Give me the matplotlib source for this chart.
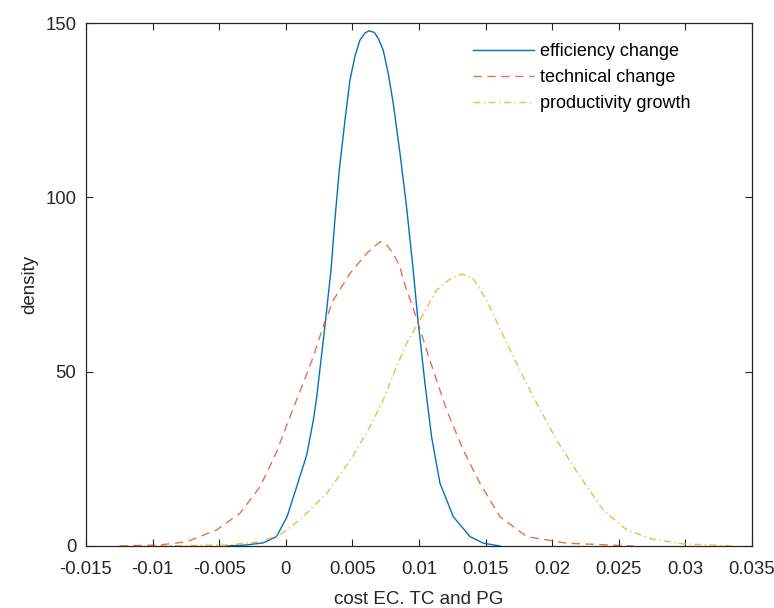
import matplotlib
matplotlib.use("Agg")
import matplotlib.pyplot as plt

# kernel density curves
ec_x = [-0.00442, -0.00294, -0.00168, -0.00069, 0.00011, 0.00082, 0.00157, 0.00207,
        0.00232, 0.00294, 0.0034, 0.00369, 0.00402, 0.00445, 0.00482, 0.0052,
        0.00557, 0.00596, 0.00627, 0.00666, 0.00696, 0.00732, 0.0077, 0.00807,
        0.00858, 0.00907, 0.00957, 0.0099, 0.01045, 0.01095, 0.01158, 0.01258,
        0.01383, 0.01483, 0.01608]
ec_y = [0, 0.3, 0.9, 2.7, 8.5, 17, 26, 36,
        42.5, 63, 79.2, 93.5, 107.8, 122.2, 133.6, 140.5,
        145.1, 147.2, 147.8, 147.3, 145.5, 142.2, 135.5, 127,
        112.6, 97.3, 79.2, 65.8, 46.7, 31.3, 18, 8.4,
        2.7, 0.8, 0]

tc_x = [-0.01248, -0.00946, -0.00744, -0.00519, -0.00343, -0.00193, -0.00068,
        0.00031, 0.00131, 0.00207, 0.00281, 0.00357, 0.00482, 0.00607, 0.0066,
        0.00712, 0.0076, 0.00807, 0.00858, 0.00882, 0.00957, 0.01082, 0.01208,
        0.01333, 0.01458, 0.01608, 0.01809, 0.02109, 0.02611]
tc_y = [0, 0.3, 1.2, 4.6, 9.4, 17, 27,
        37, 46.7, 54.3, 62.9, 70.5, 78.2, 83.9, 85.8,
        87.3, 86.2, 83.9, 80.1, 76.3, 68.2, 53.3, 39,
        27.5, 18, 8.4, 2.7, 0.8, 0]

pg_x = [-0.00946, -0.00442, -0.00193, -0.00043, 0.00107, 0.00308, 0.00495,
        0.00632, 0.00732, 0.00832, 0.00907, 0.00995, 0.01133, 0.0124, 0.01321,
        0.01402, 0.01508, 0.01684, 0.01858, 0.02033, 0.02209, 0.02384, 0.02559,
        0.02759, 0.02983, 0.03356]
pg_y = [0, 0.3, 1.2, 3.2, 7.5, 15.1, 25.2,
        34.2, 41.9, 51.4, 58.1, 64, 73.4, 76.8, 78,
        77, 70.5, 56.2, 42.8, 30.4, 19.9, 10.3, 4.6,
        1.9, 0.6, 0]

labels = ["efficiency change", "technical change", "productivity growth"]
xticks = [-0.015, -0.01, -0.005, 0, 0.005, 0.01, 0.015, 0.02, 0.025, 0.03, 0.035]
xtick_labels = ["-0.015", "-0.01", "-0.005", "0", "0.005", "0.01", "0.015",
                "0.02", "0.025", "0.03", "0.035"]
yticks = [0, 50, 100, 150]

plt.rcParams['font.family'] = ['Liberation Sans', 'DejaVu Sans']

fig = plt.figure(figsize=(7.74, 6.08), dpi=100)
ax = fig.add_axes([0.111, 0.102, 0.8605, 0.860])

ax.plot(ec_x, ec_y, color='#0072BD', lw=1.0, label=labels[0])
ax.plot(tc_x, tc_y, color='#D95319', lw=1.0, dashes=(6, 4), alpha=0.8, label=labels[1])
ax.plot(pg_x, pg_y, color='#EDB120', lw=1.0, dashes=(5, 2.5, 1, 2.5), alpha=0.85, label=labels[2])

ax.set_xlim(-0.015, 0.035)
ax.set_ylim(0, 150)
ax.set_xticks(xticks)
ax.set_xticklabels(xtick_labels)
ax.set_yticks(yticks)

ax.tick_params(direction='in', length=5, width=0.8, colors='#262626',
               labelsize=13.3, top=True, right=True)
ax.tick_params(axis='x', pad=11)
ax.tick_params(axis='y', pad=7)
for s in ax.spines.values():
    s.set_color('#262626')
    s.set_linewidth(0.9)

ax.set_xlabel("cost EC. TC and PG", fontsize=13.5, color='#262626', labelpad=9)
ax.set_ylabel("density", fontsize=13.5, color='#262626', labelpad=5)

ax.legend(loc='upper left', bbox_to_anchor=(0.581, 0.962), frameon=False,
          fontsize=13, handlelength=3.4, handletextpad=0.3, labelspacing=0.5,
          borderpad=0, borderaxespad=0)

fig.savefig("out.png", dpi=100)
